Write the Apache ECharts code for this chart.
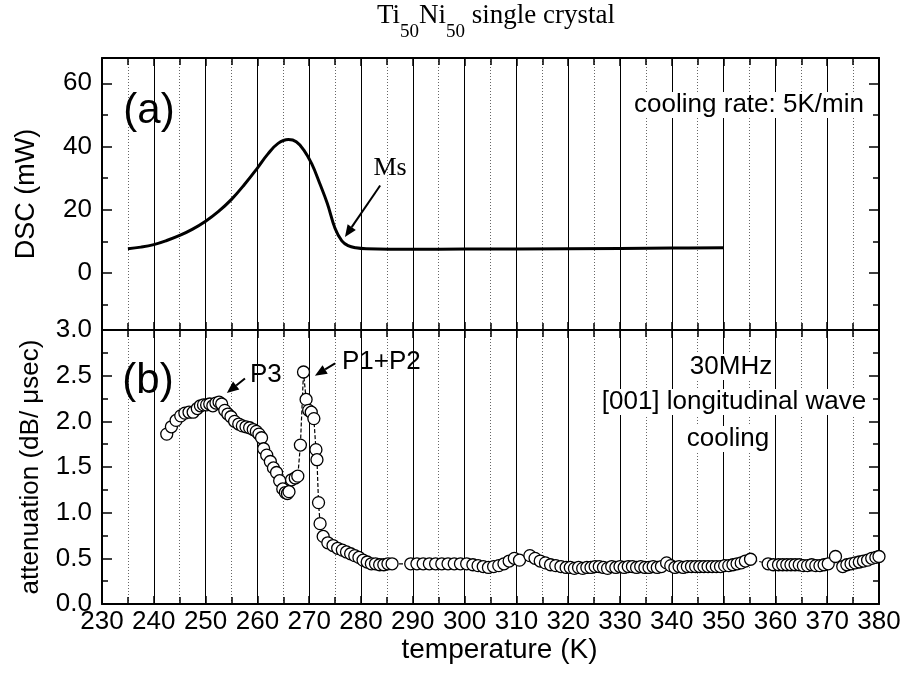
<!DOCTYPE html>
<html><head><meta charset="utf-8">
<script src="https://cdn.jsdelivr.net/npm/echarts@6/dist/echarts.min.js"></script>
<style>html,body{margin:0;padding:0;background:#fff}#c{width:905px;height:683px}</style>
</head><body><div id="c"></div>
<script>
// ---------- data ----------
const tempRange = [230, 380];
const dscRange = [-18, 68];
const dscMajorTicks = [0, 20, 40, 60];
const dscMinorTicks = [-10, 10, 30, 50];
const attRange = [0, 3];

const dscTemp  = [235, 237.5, 240, 242.5, 245, 247.5, 250, 252.5, 255, 257.5, 260, 262, 264, 266, 267.5, 269, 270.5, 272, 273.5, 275, 276.3, 277.5, 279, 281, 290, 300, 320, 340, 350];
const dscValue = [7.7, 8.2, 9.0, 10.3, 11.9, 13.9, 16.4, 19.5, 23.3, 28.0, 33.2, 37.6, 41.0, 42.2, 41.5, 38.8, 34.5, 28.5, 22.0, 14.1, 10.2, 8.7, 8.0, 7.7, 7.5, 7.6, 7.7, 7.9, 8.0];

const attTemp = [242.5, 243.4, 244.3, 245.2, 246.0, 246.8, 247.6, 248.4, 249.0, 249.6, 250.2, 250.8, 251.4, 252.0, 252.6, 253.1, 253.7, 254.3, 254.9, 255.6, 256.4, 257.1, 257.8, 258.5, 259.2, 259.8, 260.3, 260.8, 261.2, 261.8, 262.5, 263.1, 263.7, 264.3, 264.9, 265.4, 265.8, 266.1, 266.6, 267.3, 267.8, 268.3, 268.9, 269.4, 269.9, 270.4, 270.9, 271.3, 271.5, 271.8, 272.1, 272.7, 273.6, 274.6, 275.5, 276.4, 277.2, 278.0, 278.8, 279.6, 280.4, 281.2, 282.0, 282.8, 283.6, 284.4, 285.2, 286.0,
  289.6, 290.8, 292.0, 293.2, 294.4, 295.6, 296.8, 298.0, 299.2, 300.4, 301.6, 302.6, 303.6, 304.6, 305.6, 306.6, 307.6, 308.6, 309.6, 310.6, 312.6, 313.6, 314.6, 315.6, 316.6, 317.6, 318.6, 319.6,
  320.4, 321.2, 322.0, 322.8, 323.6, 324.4, 325.2, 326.0, 326.8, 327.6, 328.4, 329.2, 330.0, 330.8, 331.6, 332.4, 333.2, 334.0, 334.8, 335.6, 336.4, 337.2, 338.0, 339.0, 339.8, 340.6, 341.4, 342.2, 343.0, 343.8, 344.6, 345.4, 346.2, 347.0, 347.8, 348.6, 349.4, 350.2, 351.0, 351.8, 352.6, 353.4, 354.2, 355.2,
  358.6, 359.6, 360.6, 361.4, 362.2, 363.0, 363.8, 364.6, 365.4, 366.2, 367.0, 367.8, 368.6, 369.4, 370.2, 371.6, 373.0, 373.8, 374.6, 375.4, 376.2, 377.0, 377.8, 378.6, 379.4, 380.0];
const attValue = [1.86, 1.94, 2.01, 2.06, 2.09, 2.10, 2.10, 2.14, 2.17, 2.18, 2.18, 2.19, 2.17, 2.20, 2.21, 2.19, 2.12, 2.08, 2.05, 2.00, 1.97, 1.95, 1.94, 1.93, 1.91, 1.89, 1.86, 1.82, 1.70, 1.63, 1.56, 1.49, 1.44, 1.35, 1.26, 1.22, 1.21, 1.23, 1.36, 1.38, 1.40, 1.74, 2.54, 2.24, 2.12, 2.10, 2.03, 1.69, 1.58, 1.11, 0.88, 0.74, 0.67, 0.64, 0.61, 0.59, 0.57, 0.55, 0.53, 0.51, 0.48, 0.46, 0.44, 0.44, 0.43, 0.43, 0.44, 0.44,
  0.44, 0.44, 0.44, 0.44, 0.44, 0.44, 0.44, 0.44, 0.44, 0.44, 0.43, 0.42, 0.41, 0.40, 0.41, 0.42, 0.44, 0.47, 0.50, 0.48, 0.53, 0.50, 0.47, 0.45, 0.43, 0.42, 0.41, 0.40,
  0.40, 0.39, 0.40, 0.39, 0.40, 0.40, 0.41, 0.41, 0.40, 0.39, 0.41, 0.40, 0.41, 0.40, 0.41, 0.41, 0.40, 0.41, 0.40, 0.40, 0.41, 0.40, 0.41, 0.45, 0.42, 0.40, 0.41, 0.40, 0.41, 0.41, 0.41, 0.41, 0.41, 0.41, 0.41, 0.41, 0.41, 0.42, 0.42, 0.43, 0.44, 0.45, 0.47, 0.49,
  0.44, 0.43, 0.43, 0.43, 0.43, 0.43, 0.43, 0.43, 0.42, 0.42, 0.43, 0.42, 0.42, 0.43, 0.44, 0.52, 0.41, 0.43, 0.44, 0.45, 0.46, 0.47, 0.48, 0.50, 0.51, 0.52];

// annotation arrows in data coordinates: [fromT, fromV, toT, toV]
const arrowMs   = [283.7, 27.7, 276.9, 11.4];
const arrowP3   = [257.6, 2.47, 254.1, 2.31];
const arrowP1P2 = [275.0, 2.635, 271.1, 2.50];

// ---------- chart ----------
const SANS = '"Liberation Sans", Arial, sans-serif';
const SERIF = '"Liberation Serif", "Times New Roman", serif';
const chart = echarts.init(document.getElementById('c'));

function xAxisDef(gridIndex, position, withLabels, withGrid) {
  return {
    type: 'value', gridIndex, position, min: tempRange[0], max: tempRange[1], interval: 10,
    axisLine: { show: true, onZero: false, lineStyle: { color: '#000', width: 2 } },
    axisTick: { show: true, inside: true, length: 8, lineStyle: { color: '#000', width: 1.5 } },
    minorTick: { show: true, splitNumber: 2, length: 7, lineStyle: { color: '#000', width: 1.5 } },
    axisLabel: { show: withLabels, margin: 5, color: '#000', fontSize: 26, fontFamily: SANS },
    splitLine: { show: withGrid, lineStyle: { color: '#000', width: 1 } },
    minorSplitLine: { show: withGrid, lineStyle: { color: '#666', width: 1, type: [1, 2] } },
    name: withLabels ? 'temperature (K)' : '',
    nameLocation: 'middle', nameGap: 27,
    nameTextStyle: { color: '#000', fontSize: 28, fontFamily: SANS, padding: [0, 0, 0, 18] }
  };
}
function yDsc(position, ticks, len, showLine, showLabel) {
  return {
    type: 'value', gridIndex: 0, position, min: dscRange[0], max: dscRange[1],
    axisLine: { show: showLine, onZero: false, lineStyle: { color: '#000', width: 2 } },
    axisTick: { show: true, inside: true, length: len, customValues: ticks, lineStyle: { color: '#000', width: 1.5 } },
    axisLabel: { show: showLabel, customValues: ticks, margin: 10, color: '#000', fontSize: 26, fontFamily: SANS },
    splitLine: { show: false },
    name: showLabel ? 'DSC (mW)' : '', nameLocation: 'middle', nameGap: 62,
    nameTextStyle: { color: '#000', fontSize: 27, fontFamily: SANS }
  };
}
function yAtt(position, showLabel) {
  return {
    type: 'value', gridIndex: 1, position, min: attRange[0], max: attRange[1], interval: 0.5,
    axisLine: { show: true, onZero: false, lineStyle: { color: '#000', width: 2 } },
    axisTick: { show: true, inside: true, length: 10, lineStyle: { color: '#000', width: 1.5 } },
    minorTick: { show: true, splitNumber: 2, length: 6, lineStyle: { color: '#000', width: 1.5 } },
    axisLabel: { show: showLabel, margin: 10, color: '#000', fontSize: 26, fontFamily: SANS, formatter: v => v.toFixed(1) },
    splitLine: { show: false },
    name: showLabel ? 'attenuation (dB/ \u03bcsec)' : '', nameLocation: 'middle', nameGap: 58,
    nameTextStyle: { color: '#000', fontSize: 26, fontFamily: SANS }
  };
}

const option = {
  animation: false,
  backgroundColor: '#fff',
  grid: [
    { left: 102, right: 26, top: 58, height: 272 },
    { left: 102, right: 26, top: 330, height: 274 }
  ],
  xAxis: [
    xAxisDef(0, 'bottom', false, true),
    xAxisDef(0, 'top', false, false),
    xAxisDef(1, 'bottom', true, true),
    xAxisDef(1, 'top', false, false)
  ],
  yAxis: [
    yDsc('left', dscMajorTicks, 10, true, true),
    yDsc('left', dscMinorTicks, 6, false, false),
    yDsc('right', dscMajorTicks, 10, true, false),
    yDsc('right', dscMinorTicks, 6, false, false),
    yAtt('left', true),
    yAtt('right', false)
  ],
  series: [
    {
      type: 'line', xAxisIndex: 0, yAxisIndex: 0, smooth: 0.4, showSymbol: false,
      lineStyle: { color: '#000', width: 3 },
      data: dscTemp.map((t, i) => [t, dscValue[i]]), z: 5
    },
    {
      type: 'line', xAxisIndex: 2, yAxisIndex: 4, symbol: 'circle', symbolSize: 12,
      itemStyle: { color: '#fff', borderColor: '#000', borderWidth: 1.3 },
      lineStyle: { color: '#000', width: 1.2, type: [4, 2] },
      data: attTemp.map((t, i) => [t, attValue[i]]), z: 5
    }
  ]
};
chart.setOption(option);

function arrow(spec, seriesIndex) {
  const p0 = chart.convertToPixel({ seriesIndex }, [spec[0], spec[1]]);
  const p1 = chart.convertToPixel({ seriesIndex }, [spec[2], spec[3]]);
  const dx = p1[0] - p0[0], dy = p1[1] - p0[1];
  const len = Math.hypot(dx, dy), ux = dx / len, uy = dy / len;
  const hl = 12, hw = 5;
  const bx = p1[0] - ux * hl, by = p1[1] - uy * hl;
  return [
    { type: 'line', z: 20, shape: { x1: p0[0], y1: p0[1], x2: bx, y2: by }, style: { stroke: '#000', lineWidth: 2 } },
    { type: 'polygon', z: 20, shape: { points: [[p1[0], p1[1]], [bx - uy * hw, by + ux * hw], [bx + uy * hw, by - ux * hw]] }, style: { fill: '#000' } }
  ];
}
function txt(text, x, y, size, family, extra) {
  return { type: 'text', z: 15, style: Object.assign({ text, x, y, fill: '#000', fontSize: size, fontFamily: family, align: 'center', verticalAlign: 'middle' }, extra || {}) };
}

const graphics = [].concat(
  arrow(arrowMs, 0), arrow(arrowP3, 1), arrow(arrowP1P2, 1),
  [
    { type: 'text', z: 15, style: {
      text: '{m|Ti}{s|50}{m|Ni}{s|50}{m| single crystal}', x: 496, y: 2, align: 'center', verticalAlign: 'top',
      rich: {
        m: { fontSize: 27, fontFamily: SERIF, lineHeight: 40, verticalAlign: 'top', color: '#000' },
        s: { fontSize: 19, fontFamily: SERIF, lineHeight: 11, verticalAlign: 'bottom', color: '#000' }
      } } },
    txt('(a)', 149, 111, 42, SANS),
    txt('(b)', 148, 381, 42, SANS),
    txt('cooling rate: 5K/min', 749, 105, 26, SANS, { backgroundColor: '#fff', padding: [0, 2] }),
    txt('Ms', 390, 168, 26, SERIF),
    txt('P3', 250, 375, 26, SANS, { align: 'left' }),
    txt('P1+P2', 342, 362, 26, SANS, { align: 'left' }),
    txt('30MHz', 731, 367, 26, SANS, { backgroundColor: '#fff', padding: [0, 2] }),
    txt('[001] longitudinal wave', 734, 402, 26, SANS, { backgroundColor: '#fff', padding: [0, 2] }),
    txt('cooling', 728, 439, 26, SANS, { backgroundColor: '#fff', padding: [0, 2] })
  ]
);
chart.setOption({ graphic: graphics });
</script></body></html>
